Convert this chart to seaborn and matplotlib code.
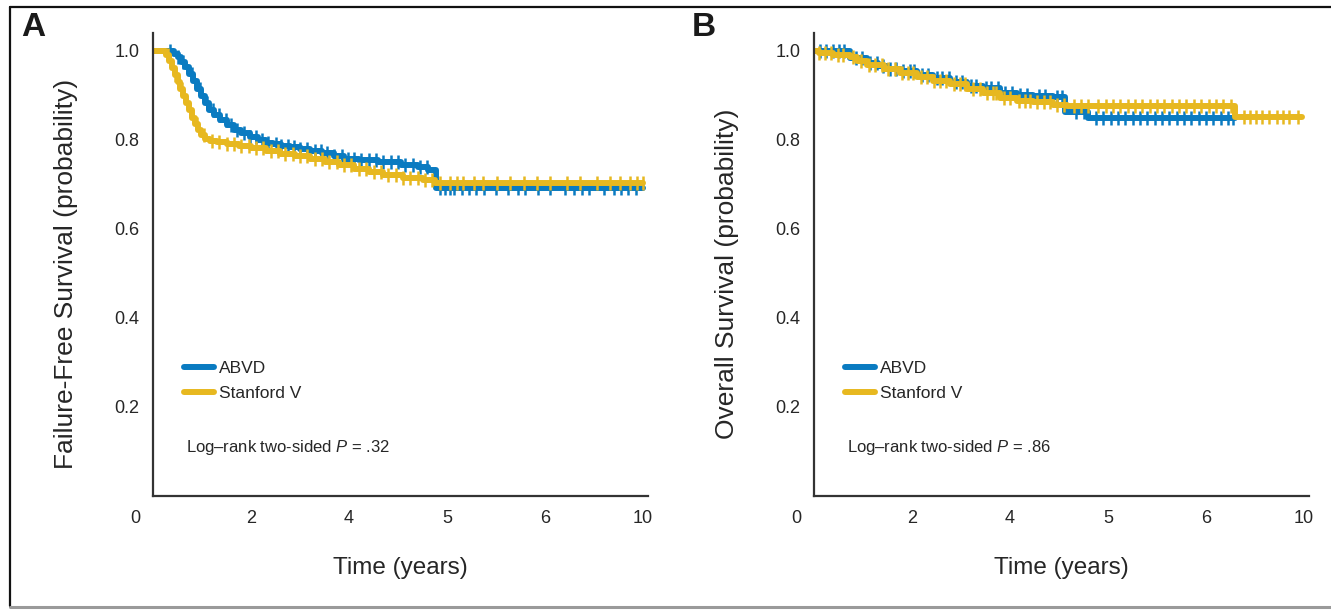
import numpy as np
import pandas as pd
import matplotlib
matplotlib.use("Agg")
import matplotlib.pyplot as plt
from matplotlib.lines import Line2D
from matplotlib import font_manager
import seaborn as sns

# ---------------- data ----------------
groups = ["ABVD", "Stanford V"]
colors = {"ABVD": "#0A7BC1", "Stanford V": "#E7B820"}

# Panel A: failure-free survival (step curves)
ffs_abvd_t = [0, 0.42, 0.5, 0.58, 0.66, 0.74, 0.82, 0.9, 0.98, 1.06, 1.14, 1.24, 1.36, 1.5, 1.65,
              1.8, 1.98, 2.15, 2.3, 2.45, 2.62, 2.8, 3.0, 3.2, 3.45, 3.7, 3.9, 4.2, 4.6, 5.05, 5.4,
              5.62, 5.78, 10.0]
ffs_abvd_s = [1.0, 0.993, 0.985, 0.975, 0.963, 0.948, 0.932, 0.915, 0.898, 0.882, 0.868, 0.855,
              0.844, 0.833, 0.823, 0.815, 0.806, 0.799, 0.793, 0.79, 0.787, 0.784, 0.779, 0.775,
              0.77, 0.763, 0.758, 0.755, 0.75, 0.744, 0.738, 0.733, 0.692, 0.692]
ffs_sv_t = [0, 0.26, 0.32, 0.38, 0.44, 0.5, 0.56, 0.62, 0.68, 0.74, 0.8, 0.86, 0.92, 0.98, 1.06,
            1.16, 1.3, 1.5, 1.75, 2.0, 2.3, 2.6, 2.9, 3.2, 3.5, 3.8, 4.1, 4.4, 4.7, 5.1, 5.5, 5.75, 10.0]
ffs_sv_s = [1.0, 0.99, 0.978, 0.962, 0.945, 0.93, 0.914, 0.898, 0.882, 0.866, 0.85, 0.836, 0.823,
            0.812, 0.803, 0.797, 0.795, 0.79, 0.786, 0.781, 0.775, 0.769, 0.763, 0.758, 0.751,
            0.743, 0.735, 0.727, 0.72, 0.714, 0.709, 0.703, 0.703]
ffs_abvd_cens = [0.35, 0.5, 0.62, 0.8, 0.95, 1.1, 1.22, 1.35, 1.48, 1.6, 1.72, 1.85, 1.98, 2.1, 2.22,
                 2.35, 2.5, 2.62, 2.75, 2.88, 3.0, 3.15, 3.3, 3.42, 3.55, 3.7, 3.85, 3.98, 4.1, 4.25,
                 4.4, 4.55, 4.7, 4.85, 5.0, 5.15, 5.3, 5.45, 5.6, 5.85, 5.95, 6.05, 6.15, 6.3, 6.45,
                 6.6, 6.75, 7.0, 7.25, 7.45, 7.6, 7.85, 8.1, 8.4, 8.6, 8.75, 8.9, 9.2, 9.4, 9.55, 9.7,
                 9.85]
ffs_sv_cens = [0.3, 0.45, 0.6, 0.75, 0.9, 1.05, 1.2, 1.35, 1.5, 1.65, 1.8, 1.95, 2.1, 2.25, 2.4,
               2.55, 2.7, 2.85, 3.0, 3.15, 3.3, 3.45, 3.6, 3.75, 3.9, 4.05, 4.2, 4.35, 4.5, 4.65,
               4.8, 4.95, 5.1, 5.25, 5.4, 5.55, 5.7, 5.86, 6.06, 6.2, 6.33, 6.54, 6.74, 7.01, 7.29,
               7.56, 7.83, 8.1, 8.44, 8.71, 9.05, 9.33, 9.53, 9.73, 9.87, 10.0]

# Panel B: overall survival (step curves)
os_abvd_t = [0, 0.73, 1.08, 1.3, 1.49, 1.76, 2.1, 2.43, 2.78, 3.12, 3.45, 3.8, 4.14, 4.47, 4.88,
             5.12, 5.6, 8.6]
os_abvd_s = [1.0, 0.984, 0.973, 0.966, 0.96, 0.954, 0.946, 0.939, 0.931, 0.921, 0.917, 0.906,
             0.901, 0.899, 0.897, 0.862, 0.849, 0.849]
os_sv_t = [0, 0.1, 0.39, 0.73, 0.88, 1.08, 1.42, 1.76, 2.1, 2.43, 2.78, 3.12, 3.45, 3.8, 4.14, 4.47,
           4.88, 5.16, 8.6, 9.95]
os_sv_s = [1.0, 0.995, 0.99, 0.987, 0.976, 0.968, 0.96, 0.95, 0.942, 0.933, 0.925, 0.914, 0.906,
           0.895, 0.888, 0.884, 0.879, 0.875, 0.851, 0.851]
os_abvd_cens = [0.12, 0.25, 0.38, 0.5, 0.62, 0.85, 0.98, 1.15, 1.28, 1.4, 1.55, 1.68, 1.82, 1.95,
                2.05, 2.2, 2.32, 2.5, 2.62, 2.75, 2.9, 3.02, 3.2, 3.3, 3.5, 3.62, 3.75, 3.9, 4.05,
                4.2, 4.35, 4.6, 4.72, 4.95, 5.05, 5.35, 5.5, 5.75, 5.9, 6.05, 6.2, 6.35, 6.5, 6.65,
                6.8, 6.95, 7.1, 7.25, 7.4, 7.55, 7.7, 7.85, 8.0, 8.15, 8.3, 8.45, 8.55]
os_sv_cens = [0.1, 0.22, 0.35, 0.48, 0.6, 0.8, 0.95, 1.12, 1.25, 1.38, 1.52, 1.65, 1.8, 1.92, 2.02,
              2.18, 2.3, 2.45, 2.58, 2.7, 2.85, 2.98, 3.08, 3.25, 3.38, 3.52, 3.65, 3.72, 3.88, 4.0,
              4.18, 4.3, 4.4, 4.55, 4.7, 4.82, 4.95, 5.1, 5.3, 5.45, 5.6, 5.8, 5.95, 6.1, 6.25, 6.4,
              6.55, 6.7, 6.85, 7.0, 7.15, 7.3, 7.45, 7.6, 7.75, 7.9, 8.05, 8.2, 8.35, 8.5, 8.77,
              8.9, 9.02, 9.15, 9.28, 9.45, 9.57, 9.7, 9.87]

ytick_values = [0.2, 0.4, 0.6, 0.8, 1.0]
ytick_labels = ["0.2", "0.4", "0.6", "0.8", "1.0"]
xtick_values = [0, 2, 4, 6, 8, 10]
xtick_labels = ["0", "2", "4", "5", "6", "10"]
panel_letters = ["A", "B"]
ylabels = ["Failure-Free Survival (probability)", "Overall Survival (probability)"]
xlabel = "Time (years)"
pvalues = [".32", ".86"]

# ---------------- style ----------------
sns.set_style("white")
names = {f.name for f in font_manager.fontManager.ttflist}
regular = "Liberation Sans" if "Liberation Sans" in names else "DejaVu Sans"
plt.rcParams["font.family"] = [regular, "DejaVu Sans"]
plt.rcParams["mathtext.fontset"] = "custom"
plt.rcParams["mathtext.it"] = regular + ":italic"
plt.rcParams["mathtext.rm"] = regular

W, H = 1331, 610
fig = plt.figure(figsize=(W / 100, H / 100), dpi=100)
fig.patch.set_facecolor("white")

axes = [fig.add_axes([153 / W, 114 / H, 495 / W, 463 / H]),
        fig.add_axes([814 / W, 114 / H, 495 / W, 463 / H])]

curves = [
    {"ABVD": (ffs_abvd_t, ffs_abvd_s, ffs_abvd_cens), "Stanford V": (ffs_sv_t, ffs_sv_s, ffs_sv_cens)},
    {"ABVD": (os_abvd_t, os_abvd_s, os_abvd_cens), "Stanford V": (os_sv_t, os_sv_s, os_sv_cens)},
]

axis_col = "#333333"
text_col = "#262626"

for i, ax in enumerate(axes):
    for g in groups:
        t, s, cens = curves[i][g]
        df = pd.DataFrame({"time": t, "surv": s})
        sns.lineplot(data=df, x="time", y="surv", ax=ax, drawstyle="steps-post",
                     color=colors[g], lw=4.3, estimator=None, sort=False, label=g)
        t_arr = np.asarray(t)
        s_arr = np.asarray(s)
        c_arr = np.asarray(cens)
        idx = np.clip(np.searchsorted(t_arr, c_arr, side="right") - 1, 0, len(s_arr) - 1)
        cdf = pd.DataFrame({"time": c_arr, "surv": s_arr[idx]})
        sns.lineplot(data=cdf, x="time", y="surv", ax=ax, linestyle="", marker="|",
                     markersize=9.5, mew=1.8, mec=colors[g], color=colors[g],
                     estimator=None, sort=False, legend=False)

    ax.set_xlim(0, 10.1)
    ax.set_ylim(0, 1.04)
    for sp in ["top", "right"]:
        ax.spines[sp].set_visible(False)
    for sp in ["left", "bottom"]:
        ax.spines[sp].set_color(axis_col)
        ax.spines[sp].set_linewidth(1.6)

    ax.set_yticks(ytick_values)
    ax.set_yticklabels(ytick_labels)
    ax.set_xticks(xtick_values[1:])
    ax.set_xticklabels(xtick_labels[1:])
    ax.tick_params(axis="both", direction="out", length=5.8, width=1.3, color=axis_col,
                   labelcolor=text_col, labelsize=13)
    ax.tick_params(axis="y", pad=4)
    ax.tick_params(axis="x", pad=4)
    # the "0" label sits left of the axis origin, without a tick mark
    ax.annotate(xtick_labels[0], xy=(xtick_values[0], 0), xycoords=("data", "axes fraction"),
                xytext=(-13, -9.8), textcoords="offset points", ha="center", va="top",
                fontsize=13, color=text_col, annotation_clip=False)

    ax.set_ylabel(ylabels[i], fontsize=19, color=text_col)
    ax.yaxis.label.set_va("center")
    ax.yaxis.set_label_coords(-0.176, 0.48)
    ax.set_xlabel(xlabel, fontsize=17.5, color=text_col)
    ax.xaxis.label.set_va("center")
    ax.xaxis.set_label_coords(0.5, -0.1555)

    leg = ax.legend(loc="upper left", bbox_to_anchor=(0.062, 0.292), frameon=False,
                    fontsize=12.5, handlelength=1.72, handletextpad=0.29, labelspacing=0.55,
                    borderpad=0, borderaxespad=0)
    for txt in leg.get_texts():
        txt.set_color(text_col)
    for h in leg.get_lines():
        h.set_linewidth(4.3)

    ax.text(0.0667, 0.1037, "Log\u2013rank two-sided $P$ = " + pvalues[i], transform=ax.transAxes,
            ha="left", va="center", fontsize=12, color=text_col)

# panel letters
fig.text(33 / W, 1 - 27.5 / H, panel_letters[0], ha="center", va="center", fontsize=24,
         fontweight="bold", color="#1a1a1a")
fig.text(704 / W, 1 - 27.5 / H, panel_letters[1], ha="center", va="center", fontsize=24,
         fontweight="bold", color="#1a1a1a")

# outer frame
fig.add_artist(Line2D([10 / W, 10 / W], [1 - 7 / H, 1 - 606 / H], transform=fig.transFigure,
                      color="#111111", lw=1.6))
fig.add_artist(Line2D([10 / W, 1.0], [1 - 7 / H, 1 - 7 / H], transform=fig.transFigure,
                      color="#111111", lw=1.6))
fig.add_artist(Line2D([10 / W, 1.0], [1 - 607 / H, 1 - 607 / H], transform=fig.transFigure,
                      color="#9a9a9a", lw=2.2))

fig.savefig("out.png", dpi=100, facecolor="white")
